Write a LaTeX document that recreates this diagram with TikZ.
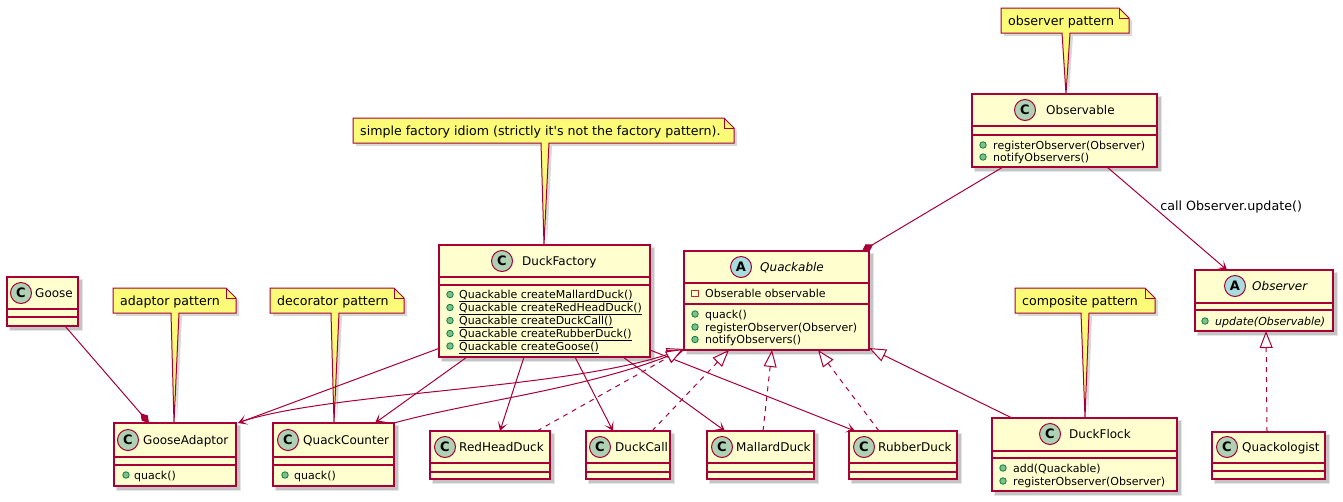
\documentclass[tikz,border=0pt]{standalone}
\usepackage{fontspec}
\setmainfont{DejaVu Sans}
\usetikzlibrary{arrows.meta,calc}
\definecolor{bord}{HTML}{A80036}
\definecolor{cfill}{HTML}{FEFECE}
\definecolor{nfill}{HTML}{FBFB77}
\definecolor{cicon}{HTML}{ADD1B2}
\definecolor{aicon}{HTML}{A9DCDF}
\definecolor{pubf}{HTML}{84BE84}
\definecolor{pubb}{HTML}{038048}
\definecolor{privb}{HTML}{C82930}

\tikzset{
  classbox/.style={rectangle, draw=bord, fill=cfill, line width=1.4pt, inner sep=0pt, outer sep=0pt},
  sepline/.style={draw=bord, line width=1.4pt},
  iconstyle/.style={circle, draw=bord, line width=1pt, minimum size=21pt, inner sep=0pt, font=\fontsize{13}{13}\selectfont\bfseries},
  pubicon/.style={circle, draw=pubb, fill=pubf, line width=0.8pt, minimum size=6.5pt, inner sep=0pt},
  privicon/.style={rectangle, draw=privb, line width=1pt, minimum size=6.5pt, inner sep=0pt},
  memtext/.style={anchor=base west, inner sep=0pt, font=\fontsize{11}{13}\selectfont},
  nametext/.style={anchor=base west, inner sep=0pt, font=\fontsize{12}{14}\selectfont},
  notetext/.style={anchor=base west, inner sep=0pt, font=\fontsize{12.6}{15}\selectfont},
  notebox/.style={draw=bord, fill=nfill, line width=1pt, line join=miter},
  conn/.style={draw=bord, line width=1pt},
  realize/.style={conn, dash pattern=on 5pt off 5pt},
  toarrow/.style={-{Stealth[length=9pt,width=10pt,inset=5pt]}},
  toinh/.style={-{Triangle[open,length=17pt,width=13pt,fill=white]}},
  tocomp/.style={-{Diamond[length=13pt,width=8pt]}},
  lbl/.style={inner sep=0pt, font=\fontsize{12.7}{15}\selectfont}
}

\newcommand\umlclass[7]{%
  \fill[black,opacity=.10] (#2+2,#3+2) rectangle (#4+5,#5+5);
  \fill[black,opacity=.14] (#2+3,#3+3) rectangle (#4+4,#5+4);
  \node[classbox,anchor=north west,minimum width={(#4-#2)*1pt},minimum height={(#5-#3)*1pt}] (#1) at (#2,#3) {};
  \draw[sepline] (#2,#6) -- (#4,#6) (#2,#7) -- (#4,#7);
}
\newcommand\umlhead[7]{%
  \node[iconstyle,fill=#2] (#1) at (#4,#5) {#3};
  \node[nametext] (#1t) at (#6,#5+4.4) {#7};
}
\newcommand\umlpub[5]{%
  \node[pubicon] (#1i) at (#2,#4) {};
  \node[memtext] (#1) at (#3,#4+4) {#5};
}
\newcommand\umlpriv[5]{%
  \node[privicon] (#1i) at (#2,#4) {};
  \node[memtext] (#1) at (#3,#4+4) {#5};
}
\newcommand\umlnote[8]{%
  \fill[black,opacity=.15] (#2+3,#3+3) -- (#4-7,#3+3) -- (#4+3,#3+13) -- (#4+3,#5+3) -- (#6+11,#5+3) -- ($(#7)+(3,0)$) -- (#6+3,#5+3) -- (#2+3,#5+3) -- cycle;
  \filldraw[notebox] (#2,#3) -- (#4-10,#3) -- (#4,#3+10) -- (#4,#5) -- (#6+8,#5) -- (#7) -- (#6,#5) -- (#2,#5) -- cycle;
  \draw[notebox,fill=none] (#4-10,#3) -- (#4-10,#3+10) -- (#4,#3+10);
  \node[notetext] (#1) at (#2+7,{(#3+#5)/2+4.5}) {#8};
}

\begin{document}
\begin{tikzpicture}[x=1pt,y=-1pt]
\fill[white] (0,0) rectangle (1343,501);
\useasboundingbox (0,0) rectangle (1343,501);

% ---------- classes ----------
\umlclass{G}{7}{277}{78}{326}{309}{317}
\umlhead{Gh}{cicon}{C}{21}{293}{35}{Goose}

\umlclass{GA}{114}{423}{236}{486}{457}{465}
\umlhead{GAh}{cicon}{C}{128}{440}{143}{GooseAdaptor}
\umlpub{GAm1}{126}{134}{475}{quack()}

\umlclass{QC}{273}{423}{394}{486}{457}{465}
\umlhead{QCh}{cicon}{C}{288}{440}{303}{QuackCounter}
\umlpub{QCm1}{285}{294}{475}{quack()}

\umlclass{DF}{439}{245}{650}{357}{277}{285}
\umlhead{DFh}{cicon}{C}{502}{261}{522}{DuckFactory}
\umlpub{DFm1}{450}{459}{294.5}{\underline{Quackable createMallardDuck()}}
\umlpub{DFm2}{450}{459}{307.5}{\underline{Quackable createRedHeadDuck()}}
\umlpub{DFm3}{450}{459}{320.5}{\underline{Quackable createDuckCall()}}
\umlpub{DFm4}{450}{459}{333.5}{\underline{Quackable createRubberDuck()}}
\umlpub{DFm5}{450}{459}{346}{\underline{Quackable createGoose()}}

\umlclass{Q}{684}{251}{869}{350}{283}{304}
\umlhead{Qh}{aicon}{A}{741}{267}{760}{\itshape Quackable}
\umlpriv{Qa1}{695}{705}{293.5}{Obserable observable}
\umlpub{Qm1}{695}{705}{314}{quack()}
\umlpub{Qm2}{695}{705}{327}{registerObserver(Observer)}
\umlpub{Qm3}{695}{705}{339.5}{notifyObservers()}

\umlclass{OB}{972}{94}{1157}{167}{126}{135}
\umlhead{OBh}{cicon}{C}{1025}{110}{1046}{Observable}
\umlpub{OBm1}{983}{993}{145}{registerObserver(Observer)}
\umlpub{OBm2}{983}{993}{157}{notifyObservers()}

\umlclass{OR}{1195}{270}{1333}{331}{303}{310}
\umlhead{ORh}{aicon}{A}{1235}{286}{1252}{\itshape Observer}
\umlpub{ORm1}{1205}{1215}{321}{\itshape update(Observable)}

\umlclass{QL}{1212}{432}{1325}{479}{463}{471}
\umlhead{QLh}{cicon}{C}{1227}{447}{1242}{Quackologist}

\umlclass{FL}{992}{418}{1177}{491}{451}{458}
\umlhead{FLh}{cicon}{C}{1050}{434}{1069}{DuckFlock}
\umlpub{FLm1}{1003}{1013}{468}{add(Quackable)}
\umlpub{FLm2}{1003}{1013}{481}{registerObserver(Observer)}

\umlclass{RH}{430}{431}{550}{479}{463}{472}
\umlhead{RHh}{cicon}{C}{445}{447}{459}{RedHeadDuck}
\umlclass{DC}{586}{431}{670}{479}{463}{472}
\umlhead{DCh}{cicon}{C}{600}{447}{615}{DuckCall}
\umlclass{MD}{707}{431}{814}{479}{463}{472}
\umlhead{MDh}{cicon}{C}{722}{447}{736}{MallardDuck}
\umlclass{RD}{849}{431}{957}{479}{463}{472}
\umlhead{RDh}{cicon}{C}{864}{447}{878}{RubberDuck}

% ---------- notes ----------
\coordinate (nOBa) at ($(OB.north west)+(94,0)$);
\coordinate (nDFa) at ($(DF.north west)+(105,0)$);
\coordinate (nGAa) at ($(GA.north west)+(60,0)$);
\coordinate (nQCa) at ($(QC.north west)+(61,0)$);
\coordinate (nFLa) at ($(FL.north west)+(93,0)$);
\umlnote{nOB}{1001}{8}{1129}{33}{1062}{nOBa}{observer pattern}
\umlnote{nDF}{353}{118}{734}{143}{541}{nDFa}{simple factory idiom (strictly it\textquotesingle s not the factory pattern).}
\umlnote{nGA}{113}{288}{236}{313}{171}{nGAa}{adaptor pattern}
\umlnote{nQC}{270}{288}{404}{313}{331}{nQCa}{decorator pattern}
\umlnote{nFL}{1015}{288}{1155}{313}{1081}{nFLa}{composite pattern}

% ---------- connectors ----------
\draw[conn,tocomp] ($(G.south west)+(58,0)$) -- ($(GA.north west)+(35,0)$);
\draw[conn,toarrow] ($(DF.south west)+(1,-9)$) -- ($(GA.north east)+(2,0)$);
\draw[conn,toarrow] ($(DF.south west)+(28,0)$) -- ($(QC.north east)+(-19,0)$);
\draw[conn,toarrow] ($(DF.south west)+(85,0)$) -- ($(RH.north west)+(70,0)$);
\draw[conn,toarrow] ($(DF.south west)+(136,0)$) -- ($(DC.north west)+(27,0)$);
\draw[conn,toarrow] ($(DF.south west)+(184,0)$) -- ($(MD.north west)+(18,0)$);
\draw[conn,toarrow] ($(DF.south east)+(0,-7)$) -- ($(RD.north west)+(6,0)$);

\draw[conn,toinh] ($(GA.north east)+(4,-1)$) .. controls (330,392) and (560,390) .. ($(Q.south west)+(0,-1)$);
\draw[conn,toinh] (QC.north east) .. controls (470,402) and (580,390) .. (Q.south west);
\draw[realize,toinh] ($(RH.north west)+(107,0)$) -- ($(Q.south west)+(-1,-1)$);
\draw[realize,toinh] ($(DC.north west)+(66,0)$) -- ($(Q.south west)+(45,0)$);
\draw[realize,toinh] ($(MD.north west)+(56,0)$) -- ($(Q.south west)+(88,0)$);
\draw[realize,toinh] ($(RD.north west)+(30,0)$) -- ($(Q.south west)+(134,0)$);
\draw[conn,toinh] ($(FL.north west)+(20,0)$) -- ($(Q.south east)+(0,-2)$);

\draw[conn,tocomp] ($(OB.south west)+(31,0)$) -- ($(Q.north east)+(-7,0)$);
\draw[conn,toarrow] ($(OB.south west)+(135,0)$) -- node[lbl,pos=0.39,anchor=west,xshift=6pt] (lblOR) {call Observer.update()} ($(OR.north west)+(32,0)$);
\draw[realize,toinh] ($(QL.north west)+(55,0)$) -- ($(OR.south west)+(71,0)$);
\end{tikzpicture}
\end{document}
